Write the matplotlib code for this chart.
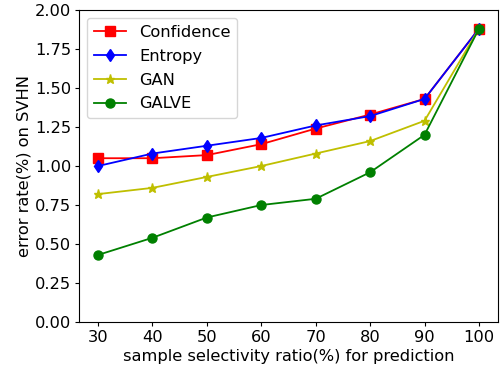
import matplotlib
matplotlib.use("Agg")
import matplotlib.pyplot as plt

ratios = [30, 40, 50, 60, 70, 80, 90, 100]
confidence = [1.05, 1.05, 1.07, 1.14, 1.24, 1.33, 1.43, 1.88]
entropy = [1.00, 1.08, 1.13, 1.18, 1.26, 1.32, 1.43, 1.88]
gan = [0.82, 0.86, 0.93, 1.00, 1.08, 1.16, 1.29, 1.88]
galve = [0.43, 0.54, 0.67, 0.75, 0.79, 0.96, 1.20, 1.88]

plt.rcParams['font.size'] = 11.7
plt.rcParams['xtick.major.size'] = 2.7
plt.rcParams['ytick.major.size'] = 2.7
plt.rcParams['xtick.major.pad'] = 2.7
plt.rcParams['ytick.major.pad'] = 2.7
plt.rcParams['lines.linewidth'] = 1.3

fig = plt.figure(figsize=(5, 3.71), dpi=100)
plt.plot(ratios, confidence, 'rs-', label='Confidence', markersize=6.5)
plt.plot(ratios, entropy, 'bd-', label='Entropy', markersize=6.5)
plt.plot(ratios, gan, 'y*-', label='GAN', markersize=6.5)
plt.plot(ratios, galve, 'go-', label='GALVE', markersize=6.5)
plt.ylim(0, 2)
plt.yticks([0, 0.25, 0.5, 0.75, 1.0, 1.25, 1.5, 1.75, 2.0],
           ['0.00', '0.25', '0.50', '0.75', '1.00', '1.25', '1.50', '1.75', '2.00'])
plt.xticks(ratios)
plt.xlabel('sample selectivity ratio(%) for prediction', labelpad=3)
plt.ylabel('error rate(%) on SVHN', labelpad=3)
plt.legend(loc='upper left', labelspacing=0.55)
plt.subplots_adjust(left=0.158, right=0.996, top=0.973, bottom=0.132)
plt.savefig('out.png')
